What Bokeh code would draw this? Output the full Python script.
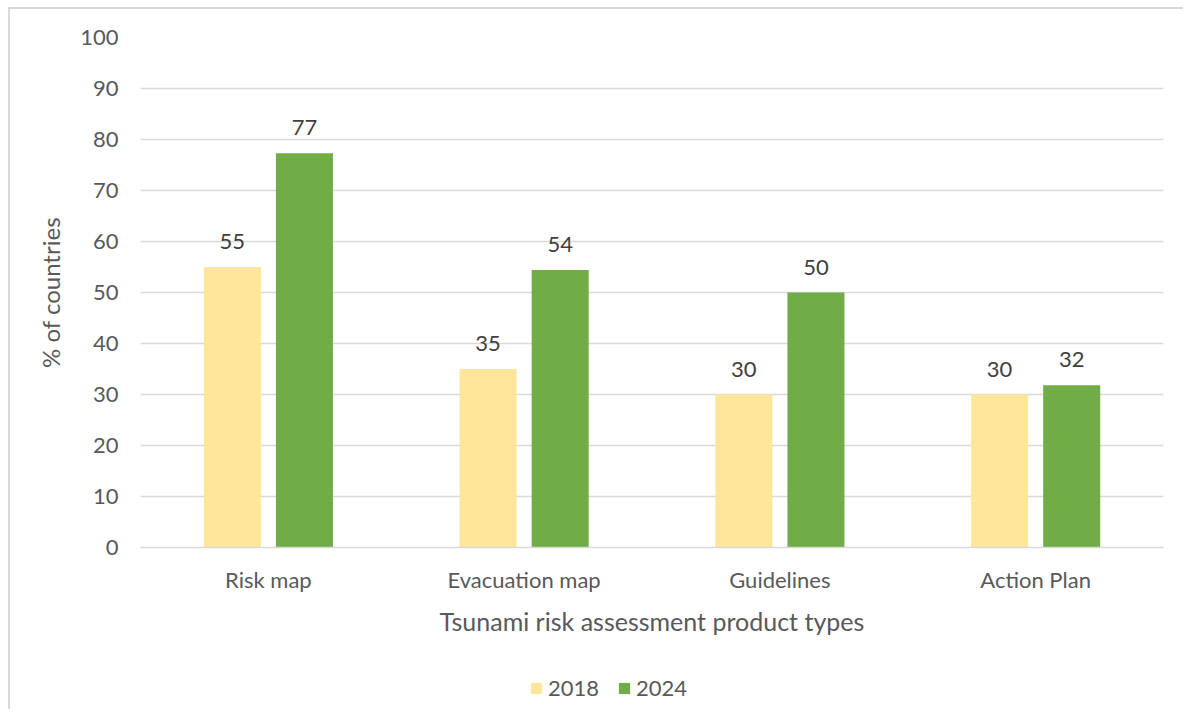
from bokeh.plotting import figure
from bokeh.models import ColumnDataSource, Legend, LegendItem, FactorRange, LabelSet, Range1d
from bokeh.core.properties import value
from bokeh.transform import dodge
from bokeh.layouts import column
from bokeh.embed import file_html
from bokeh.resources import INLINE

categories = ["Risk map", "Evacuation map", "Guidelines", "Action Plan"]
years = ["2018", "2024"]
values_2018 = [55, 35, 30, 30]
values_2024 = [77.3, 54.4, 50, 31.8]
y_ticks = [0, 10, 20, 30, 40, 50, 60, 70, 80, 90, 100]

FONT = "Lato"
c2018 = "#FFE699"
c2024 = "#70AD47"

src = ColumnDataSource(dict(
    cat=categories,
    v2018=values_2018,
    v2024=values_2024,
    l2018=["%.0f" % v for v in values_2018],
    l2024=["%.0f" % v for v in values_2024],
))

p = figure(x_range=FactorRange(*categories, range_padding=0), y_range=(0, 100),
           width=1173, height=650,
           min_border_left=130, min_border_right=20, min_border_top=28, min_border_bottom=112,
           output_backend="svg", toolbar_location=None)
p.outline_line_color = None
p.background_fill_color = "white"
p.border_fill_color = "white"

r1 = p.vbar(x=dodge("cat", -0.141, range=p.x_range), top="v2018", width=0.223, source=src,
            fill_color=c2018, line_color=None)
r2 = p.vbar(x=dodge("cat", 0.141, range=p.x_range), top="v2024", width=0.223, source=src,
            fill_color=c2024, line_color=None)

for xo, col, lab in [(-0.141, "v2018", "l2018"), (0.141, "v2024", "l2024")]:
    ls = LabelSet(x=dodge("cat", xo, range=p.x_range), y=col, text=lab, source=src,
                  text_align="center", text_baseline="bottom", y_offset=18,
                  text_font=value(FONT), text_font_size=value("22px"), text_color="#404040")
    p.add_layout(ls)

p.yaxis.ticker = y_ticks
p.ygrid.ticker = y_ticks
p.ygrid.grid_line_color = "#d9d9d9"
p.ygrid.grid_line_width = 1.5
p.xgrid.grid_line_color = None
p.yaxis.axis_line_color = None
p.yaxis.major_tick_line_color = None
p.yaxis.minor_tick_line_color = None
p.yaxis.major_tick_out = 0
p.yaxis.major_tick_in = 0
p.yaxis.major_label_standoff = 22
p.yaxis.major_label_text_font = FONT
p.yaxis.major_label_text_font_size = "22px"
p.yaxis.major_label_text_color = "#595959"
p.yaxis.axis_label = "% of countries"
p.yaxis.axis_label_text_font = FONT
p.yaxis.axis_label_text_font_size = "24px"
p.yaxis.axis_label_text_font_style = "normal"
p.yaxis.axis_label_text_color = "#595959"
p.yaxis.axis_label_standoff = 12

p.xaxis.axis_line_color = "#d9d9d9"
p.xaxis.axis_line_width = 1.5
p.xaxis.major_tick_line_color = None
p.xaxis.minor_tick_line_color = None
p.xaxis.major_tick_out = 0
p.xaxis.major_tick_in = 0
p.xaxis.major_label_standoff = 18
p.xaxis.major_label_text_font = FONT
p.xaxis.major_label_text_font_size = "22px"
p.xaxis.major_label_text_color = "#595959"
p.xaxis.axis_label = "Tsunami risk assessment product types"
p.xaxis.axis_label_text_font = FONT
p.xaxis.axis_label_text_font_size = "25px"
p.xaxis.axis_label_text_font_style = "normal"
p.xaxis.axis_label_text_color = "#595959"
p.xaxis.axis_label_standoff = 10

# legend strip below the chart (its frame is aligned with the chart's frame)
p2 = figure(width=1173, height=50, min_border=0, x_axis_location=None, y_axis_location=None,
            x_range=Range1d(0, 1), y_range=Range1d(0, 1),
            output_backend="svg", toolbar_location=None)
p2.outline_line_color = None
p2.grid.visible = False
p2.background_fill_color = "white"
p2.border_fill_color = "white"
proxy = ColumnDataSource(dict(x=[-5], top=[-5]))
lr1 = p2.vbar(x="x", top="top", bottom=-6, width=0.1, source=proxy, fill_color=c2018, line_color=None)
lr2 = p2.vbar(x="x", top="top", bottom=-6, width=0.1, source=proxy, fill_color=c2024, line_color=None)

legend = Legend(items=[LegendItem(label=years[0], renderers=[lr1]), LegendItem(label=years[1], renderers=[lr2])],
                orientation="horizontal", location=(389, 8),
                glyph_width=14, glyph_height=14, label_standoff=5, spacing=18,
                label_text_font=FONT, label_text_font_size="22px", label_text_color="#595959",
                border_line_color=None, background_fill_alpha=0, margin=0, padding=0)
p2.add_layout(legend, "center")

layout = column(p, p2, spacing=0,
                styles={"border-top": "2px solid #d9d9d9", "border-left": "2px solid #d9d9d9",
                        "margin-left": "8px", "margin-top": "7px", "background-color": "white"})

open("out.html", "w").write(file_html(layout, INLINE))
